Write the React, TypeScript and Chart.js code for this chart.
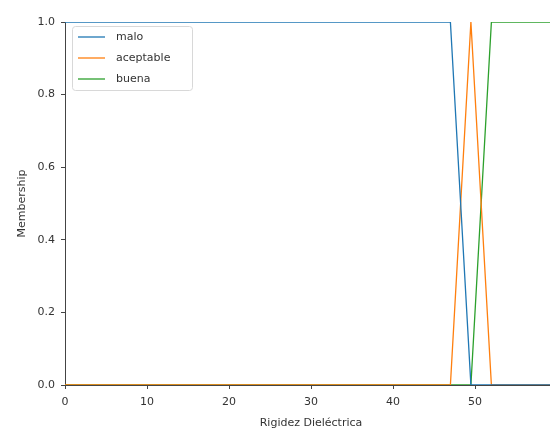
import React, { useEffect, useRef } from "react";
import { Chart, registerables } from "chart.js";

Chart.register(...registerables);

const seriesNames = ["malo", "aceptable", "buena"];
const maloX = [0, 47, 49.5, 60];
const maloY = [1, 1, 0, 0];
const aceptableX = [0, 47, 49.5, 52, 60];
const aceptableY = [0, 0, 1, 0, 0];
const buenaX = [0, 49.5, 52, 60];
const buenaY = [0, 0, 1, 1];
const xTicks = [0, 10, 20, 30, 40, 50];
const yTicks = [0, 0.2, 0.4, 0.6, 0.8, 1.0];
const colors = ["#1f77b4", "#ff7f0e", "#2ca02c"];

const FONT = "'DejaVu Sans', sans-serif";
const TEXT = "#333333";

function pts(xs: number[], ys: number[]) {
  return xs.map((x, i) => ({ x, y: ys[i] }));
}

const legendPlugin = {
  id: "innerLegend",
  afterDraw(chart: any) {
    const ctx = chart.ctx;
    const a = chart.chartArea;
    const x0 = a.left + 7;
    const y0 = a.top + 4;
    const w = 120;
    const h = 64;
    ctx.save();
    ctx.fillStyle = "rgba(255,255,255,0.8)";
    ctx.strokeStyle = "#d8d8d8";
    ctx.lineWidth = 1;
    ctx.beginPath();
    (ctx as any).roundRect(x0 + 0.5, y0 + 0.5, w, h, 3);
    ctx.fill();
    ctx.stroke();
    ctx.font = "11px " + FONT;
    ctx.textBaseline = "middle";
    seriesNames.forEach((n, i) => {
      const yy = y0 + 11 + i * 21;
      ctx.strokeStyle = colors[i];
      ctx.lineWidth = 1.3;
      ctx.beginPath();
      ctx.moveTo(x0 + 6, yy);
      ctx.lineTo(x0 + 33, yy);
      ctx.stroke();
      ctx.fillStyle = TEXT;
      ctx.fillText(n, x0 + 44, yy);
    });
    ctx.restore();
  },
};

export default function App() {
  const ref = useRef<HTMLCanvasElement>(null);
  useEffect(() => {
    if (!ref.current) return;
    const chart = new Chart(ref.current, {
      type: "scatter",
      data: {
        datasets: [
          { label: seriesNames[0], data: pts(maloX, maloY) },
          { label: seriesNames[1], data: pts(aceptableX, aceptableY) },
          { label: seriesNames[2], data: pts(buenaX, buenaY) },
        ].map((d, i) => ({
          ...d,
          showLine: true,
          borderColor: colors[i],
          backgroundColor: colors[i],
          borderWidth: 1.3,
          pointRadius: 0,
          pointHoverRadius: 0,
          tension: 0,
        })),
      },
      options: {
        animation: false,
        responsive: false,
        maintainAspectRatio: false,
        layout: { padding: { top: 22, right: 13, left: 0, bottom: 0 } },
        plugins: { legend: { display: false }, tooltip: { enabled: false } },
        scales: {
          x: {
            type: "linear",
            min: 0,
            max: 60,
            z: 1,
            afterFit: (s: any) => {
              s.height = 46;
            },
            afterBuildTicks: (s: any) => {
              s.ticks = xTicks.map((v) => ({ value: v }));
            },
            ticks: {
              color: TEXT,
              font: { family: FONT, size: 11 },
              padding: 7,
              maxRotation: 0,
              autoSkip: false,
              callback: (v: any) => String(v),
            },
            grid: {
              drawOnChartArea: false,
              drawTicks: true,
              tickLength: 4,
              tickColor: "#444",
            },
            border: { color: "#444", width: 1 },
            title: {
              display: true,
              text: "Rigidez Dieléctrica",
              color: TEXT,
              font: { family: FONT, size: 11 },
              padding: { top: 2, bottom: 1 },
            },
          },
          y: {
            type: "linear",
            min: 0,
            max: 1,
            z: 1,
            afterFit: (s: any) => {
              s.width = 65;
            },
            afterBuildTicks: (s: any) => {
              s.ticks = yTicks.map((v) => ({ value: v }));
            },
            ticks: {
              color: TEXT,
              font: { family: FONT, size: 11 },
              padding: 6,
              autoSkip: false,
              callback: (v: any) => Number(v).toFixed(1),
            },
            grid: {
              drawOnChartArea: false,
              drawTicks: true,
              tickLength: 4,
              tickColor: "#444",
            },
            border: { color: "#444", width: 1 },
            title: {
              display: true,
              text: "Membership",
              color: TEXT,
              font: { family: FONT, size: 11 },
              padding: { top: 16, bottom: 0 },
            },
          },
        },
      },
      plugins: [legendPlugin],
    } as any);
    return () => chart.destroy();
  }, []);
  return (
    <div
      style={{
        position: "fixed",
        left: 0,
        top: 0,
        width: 550,
        height: 431,
        overflow: "hidden",
        background: "#fff",
      }}
    >
      <canvas ref={ref} width={570} height={431} style={{ display: "block" }} />
    </div>
  );
}
